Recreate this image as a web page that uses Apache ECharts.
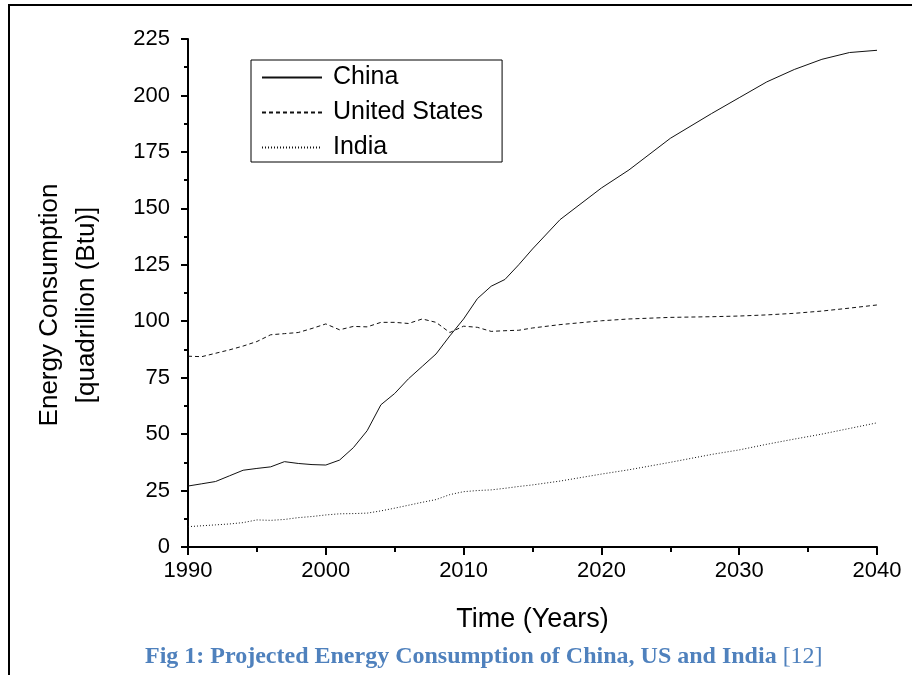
<!DOCTYPE html>
<html>
<head>
<meta charset="utf-8">
<script src="https://cdn.jsdelivr.net/npm/echarts@6/dist/echarts.min.js"></script>
<style>
  html, body { margin: 0; padding: 0; background: #fff; }
  #chart { width: 912px; height: 675px; }
</style>
</head>
<body>
<div id="chart"></div>
<script>
  // years (annual history, then projection points)
  var years = [1990, 1991, 1992, 1993, 1994, 1995, 1996, 1997, 1998, 1999,
               2000, 2001, 2002, 2003, 2004, 2005, 2006, 2007, 2008, 2009,
               2010, 2011, 2012, 2013, 2014, 2015, 2017, 2020, 2022, 2025,
               2028, 2030, 2032, 2034, 2036, 2038, 2040];
  var china = [27, 28, 29, 31.5, 34, 34.8, 35.5, 37.8, 37, 36.5,
               36.3, 38.5, 44, 51.5, 63, 68, 74.5, 80, 85.5, 93.5,
               101, 110, 115.5, 118.5, 125, 132, 145, 159, 167, 181,
               192, 199, 206, 211.5, 216, 219, 220];
  var us = [84.5, 84.3, 85.8, 87.3, 89, 91, 94, 94.5, 95, 96.8,
            98.8, 96.2, 97.7, 97.5, 99.5, 99.5, 99, 101, 99.5, 95,
            97.8, 97.3, 95.5, 95.8, 96, 97, 98.5, 100.2, 101, 101.7,
            102, 102.3, 102.8, 103.5, 104.5, 105.8, 107.2];
  var india = [9, 9.4, 9.8, 10.2, 10.8, 12, 11.8, 12.2, 13, 13.5,
               14.2, 14.7, 14.8, 15, 16, 17.2, 18.5, 19.8, 21, 23.2,
               24.5, 25, 25.3, 26, 26.8, 27.5, 29.2, 32.3, 34.2, 37.5,
               41, 43, 45.5, 47.8, 50, 52.5, 55];
  var seriesNames = ['China', 'United States', 'India'];

  function pairs(vals) {
    return years.map(function (y, i) { return [y, vals[i]]; });
  }

  var chart = echarts.init(document.getElementById('chart'), null, { renderer: 'canvas' });
  var font = 'Liberation Sans, Arial, sans-serif';

  chart.setOption({
    animation: false,
    backgroundColor: '#fff',
    textStyle: { fontFamily: font, color: '#000' },
    title: {
      text: '{b|Fig 1: Projected Energy Consumption of China, US and India }{n|[12]}',
      left: 145,
      top: 645,
      padding: 0,
      textStyle: {
        rich: {
          b: { fontFamily: 'Liberation Serif, serif', fontWeight: 'bold', fontSize: 24, color: '#4f81bd' },
          n: { fontFamily: 'Liberation Serif, serif', fontWeight: 'normal', fontSize: 24, color: '#4f81bd' }
        }
      }
    },
    legend: {
      orient: 'vertical',
      left: 251,
      top: 60,
      data: seriesNames,
      itemWidth: 60,
      itemHeight: 14,
      itemGap: 10,
      padding: [5, 8, 2, 10],
      borderColor: '#000',
      borderWidth: 1,
      itemStyle: { opacity: 0 },
      textStyle: { fontFamily: font, fontSize: 25, color: '#000', padding: [0, 11, 0, 6], lineHeight: 24 }
    },
    grid: { left: 188, right: 35, top: 39, bottom: 128 },
    xAxis: {
      type: 'value',
      min: 1990,
      max: 2040,
      interval: 10,
      name: 'Time (Years)',
      nameLocation: 'middle',
      nameGap: 59,
      nameTextStyle: { fontFamily: font, fontSize: 27, color: '#000' },
      axisLine: { lineStyle: { color: '#000', width: 2 } },
      axisTick: { length: 8, lineStyle: { color: '#000', width: 2 } },
      minorTick: { show: true, splitNumber: 2, length: 5, lineStyle: { color: '#000', width: 2 } },
      axisLabel: { fontFamily: font, fontSize: 22, color: '#000', margin: 13, formatter: function (v) { return String(v); } },
      splitLine: { show: false }
    },
    yAxis: {
      type: 'value',
      min: 0,
      max: 225,
      interval: 25,
      name: 'Energy Consumption\n[quadrillion (Btu)]',
      nameLocation: 'middle',
      nameGap: 83,
      nameTextStyle: { fontFamily: font, fontSize: 26, color: '#000', lineHeight: 37, padding: [0, 24, 0, 0] },
      axisLine: { show: true, lineStyle: { color: '#000', width: 2 } },
      axisTick: { show: true, length: 7, lineStyle: { color: '#000', width: 2 } },
      minorTick: { show: true, splitNumber: 2, length: 4, lineStyle: { color: '#000', width: 2 } },
      axisLabel: { fontFamily: font, fontSize: 22, color: '#000', margin: 18 },
      splitLine: { show: false }
    },
    graphic: [
      { type: 'line', shape: { x1: 8, y1: 5, x2: 912, y2: 5 }, style: { stroke: '#000', lineWidth: 2 } },
      { type: 'line', shape: { x1: 9, y1: 5, x2: 9, y2: 675 }, style: { stroke: '#000', lineWidth: 2 } }
    ],
    series: [
      {
        name: seriesNames[0], type: 'line', data: pairs(china), symbol: 'none',
        lineStyle: { color: '#111', width: 1, type: 'solid' }, itemStyle: { color: '#111' }
      },
      {
        name: seriesNames[1], type: 'line', data: pairs(us), symbol: 'none',
        lineStyle: { color: '#111', width: 1, type: [4, 3] }, itemStyle: { color: '#111' }
      },
      {
        name: seriesNames[2], type: 'line', data: pairs(india), symbol: 'none',
        lineStyle: { color: '#111', width: 1, type: [1, 2] }, itemStyle: { color: '#111' }
      }
    ]
  });
</script>
</body>
</html>
